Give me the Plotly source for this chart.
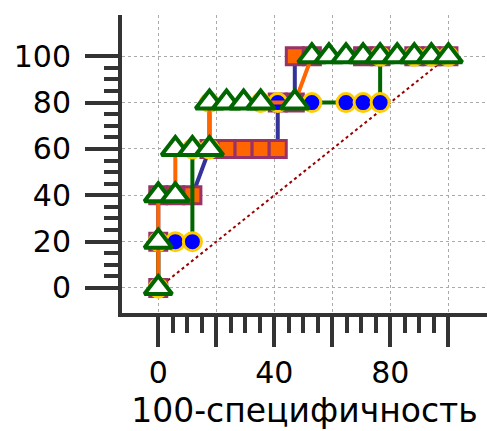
import plotly.graph_objects as go

# 100-specificity steps (17 negative cases) and sensitivity levels (5 positive cases)
sq_x = [0, 0, 0, 5.88, 11.76, 17.65, 23.53, 29.41, 35.29, 41.18, 41.18, 47.06,
        47.06, 52.94, 70.59, 76.47, 88.24, 94.12, 100]
sq_y = [0, 20, 40, 40, 40, 60, 60, 60, 60, 60, 80, 80,
        100, 100, 100, 100, 100, 100, 100]

ci_x = [0, 0, 5.88, 11.76, 11.76, 17.65, 17.65, 35.29, 41.18, 52.94, 64.71, 70.59,
        76.47, 76.47, 88.24, 94.12, 100]
ci_y = [0, 20, 20, 20, 60, 60, 80, 80, 80, 80, 80, 80,
        80, 100, 100, 100, 100]

tr_x = [0, 0, 0, 5.88, 5.88, 11.76, 17.65, 17.65, 23.53, 29.41, 35.29, 47.06,
        52.94, 58.82, 64.71, 70.59, 76.47, 82.35, 88.24, 94.12, 100]
tr_y = [0, 20, 40, 40, 60, 60, 60, 80, 80, 80, 80, 80,
        100, 100, 100, 100, 100, 100, 100, 100, 100]

diag_x = [0, 100]
diag_y = [0, 100]

major_x = [0, 20, 40, 60, 80, 100]
major_x_text = ["0", "", "40", "", "80", ""]
major_y = [0, 20, 40, 60, 80, 100]
minor_vals = [5, 10, 15, 25, 30, 35, 45, 50, 55, 65, 70, 75, 85, 90, 95]

fig = go.Figure()

fig.add_trace(go.Scatter(
    x=diag_x, y=diag_y, mode="lines",
    line=dict(color="#990000", width=2, dash="dot"),
))

fig.add_trace(go.Scatter(
    x=sq_x, y=sq_y, mode="lines+markers",
    line=dict(color="#333399", width=4),
    marker=dict(symbol="square", size=17, color="#FF6600",
                line=dict(color="#993366", width=3)),
))

fig.add_trace(go.Scatter(
    x=ci_x, y=ci_y, mode="lines+markers",
    line=dict(color="#006600", width=4),
    marker=dict(symbol="circle", size=18, color="#0000FF",
                line=dict(color="#FFCC00", width=3)),
))

fig.add_trace(go.Scatter(
    x=tr_x, y=tr_y, mode="lines+markers",
    line=dict(color="#FF6600", width=4),
    marker=dict(symbol="triangle-up", size=24, color="white",
                line=dict(color="#006600", width=4)),
))

axis_font = dict(family="DejaVu Sans", size=30, color="black")

fig.update_layout(
    width=487, height=431,
    margin=dict(l=122, r=0, t=15, b=118),
    paper_bgcolor="white", plot_bgcolor="white",
    showlegend=False,
    xaxis=dict(
        range=[-12.5, 113.3],
        tickmode="array", tickvals=major_x, ticktext=major_x_text,
        ticks="outside", ticklen=30, tickwidth=4, tickcolor="#333333",
        showline=True, linecolor="#333333", linewidth=4,
        showgrid=True, gridcolor="#aaaaaa", gridwidth=1, griddash="dot",
        zeroline=False,
        tickfont=axis_font, ticklabelstandoff=0,
        minor=dict(tickmode="array", tickvals=minor_vals, ticks="outside",
                   ticklen=16, tickwidth=3.5, tickcolor="#333333", showgrid=False),
        title=dict(text="100-специфичность",
                   font=dict(family="DejaVu Sans", size=33, color="black"),
                   standoff=11),
    ),
    yaxis=dict(
        range=[-10.8, 117.8],
        tickmode="array", tickvals=major_y,
        ticks="outside", ticklen=33, tickwidth=4, tickcolor="#333333",
        showline=True, linecolor="#333333", linewidth=4,
        showgrid=True, gridcolor="#aaaaaa", gridwidth=1, griddash="dot",
        zeroline=False,
        tickfont=axis_font, ticklabelstandoff=8,
        minor=dict(tickmode="array", tickvals=minor_vals, ticks="outside",
                   ticklen=14, tickwidth=3.5, tickcolor="#333333", showgrid=False),
    ),
)

fig.write_html("out.html")
